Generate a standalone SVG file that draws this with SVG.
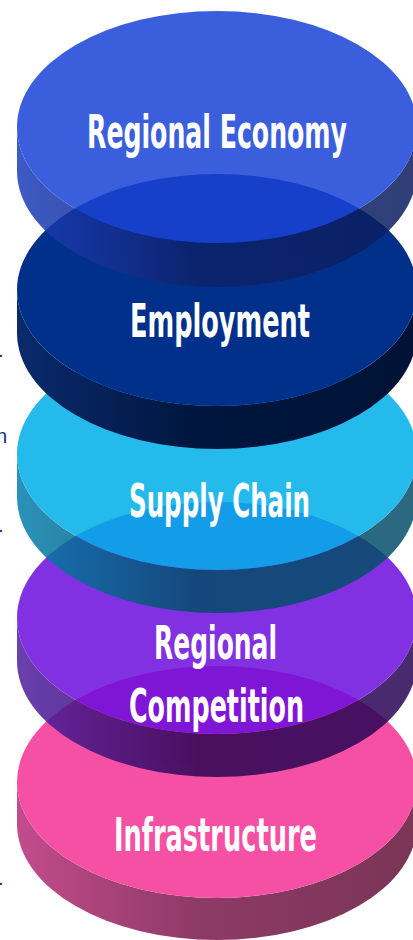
<svg xmlns="http://www.w3.org/2000/svg" width="413" height="940" viewBox="0 0 413 940">
  <defs>
    <linearGradient id="side1" x1="0" y1="0" x2="1" y2="0">
      <stop offset="0" stop-color="#1d3ebc"/>
      <stop offset="0.45" stop-color="#0e2268"/>
      <stop offset="1" stop-color="#0c1e60"/>
    </linearGradient>
    <linearGradient id="side2" x1="0" y1="0" x2="1" y2="0">
      <stop offset="0" stop-color="#0a2a6c"/>
      <stop offset="0.45" stop-color="#00163e"/>
      <stop offset="1" stop-color="#001336"/>
    </linearGradient>
    <linearGradient id="side3" x1="0" y1="0" x2="1" y2="0">
      <stop offset="0" stop-color="#0680ac"/>
      <stop offset="0.45" stop-color="#034c6a"/>
      <stop offset="1" stop-color="#05506a"/>
    </linearGradient>
    <linearGradient id="side4" x1="0" y1="0" x2="1" y2="0">
      <stop offset="0" stop-color="#501fa2"/>
      <stop offset="0.45" stop-color="#2c0554"/>
      <stop offset="1" stop-color="#2a0557"/>
    </linearGradient>
    <linearGradient id="side5" x1="0" y1="0" x2="1" y2="0">
      <stop offset="0" stop-color="#c24c8c"/>
      <stop offset="0.45" stop-color="#8e3a66"/>
      <stop offset="1" stop-color="#7a3556"/>
    </linearGradient>
  </defs>
  <style>
    .label { fill: #ffffff; font-family: "Liberation Sans Narrow", "DejaVu Sans Condensed", "Liberation Sans", sans-serif; font-weight: bold; font-size: 46px; }
    .edge { fill: #10307f; font-family: "Liberation Sans", sans-serif; font-size: 20px; }
    .glass { opacity: 0.85; }
  </style>

  <!-- clipped ends of side text -->
  <g id="side-text">
    <text class="edge" x="-2" y="357">.</text>
    <text class="edge" x="7" y="443" text-anchor="end">n</text>
    <text class="edge" x="-2" y="532">.</text>
    <text class="edge" x="-2" y="885">.</text>
  </g>

  <!-- stack drawn bottom-up: each disc = side wall + top ellipse -->
  <g id="disc-infrastructure">
    <path d="M17,782 L17,824 A200,116 0 0 0 417,824 L417,782 A200,116 0 0 1 17,782 Z" fill="url(#side5)"/>
    <ellipse cx="217" cy="782" rx="200" ry="116" fill="#f550a3"/>
    <text class="label" x="215.5" y="851" text-anchor="middle" textLength="203" lengthAdjust="spacingAndGlyphs">Infrastructure</text>
  </g>

  <g id="disc-competition" class="glass">
    <path d="M17,618 L17,661 A200,116 0 0 0 417,661 L417,618 A200,116 0 0 1 17,618 Z" fill="url(#side4)"/>
    <ellipse cx="217" cy="618" rx="200" ry="116" fill="#6c0dde"/>
  </g>
  <g id="label-competition">
    <text class="label" x="215.5" y="659" text-anchor="middle" textLength="123" lengthAdjust="spacingAndGlyphs">Regional</text>
    <text class="label" x="216.5" y="722" text-anchor="middle" textLength="175" lengthAdjust="spacingAndGlyphs">Competition</text>
  </g>

  <g id="disc-supply-chain" class="glass">
    <path d="M17,454 L17,497 A200,116 0 0 0 417,497 L417,454 A200,116 0 0 1 17,454 Z" fill="url(#side3)"/>
    <ellipse cx="217" cy="454" rx="200" ry="116" fill="#00afe9"/>
  </g>
  <g id="label-supply-chain">
    <text class="label" x="219.5" y="517" text-anchor="middle" textLength="181" lengthAdjust="spacingAndGlyphs">Supply Chain</text>
  </g>

  <g id="disc-employment">
    <path d="M17,290 L17,333 A200,116 0 0 0 417,333 L417,290 A200,116 0 0 1 17,290 Z" fill="url(#side2)"/>
    <ellipse cx="217" cy="290" rx="200" ry="116" fill="#00308a"/>
    <text class="label" x="220" y="337" text-anchor="middle" textLength="180" lengthAdjust="spacingAndGlyphs">Employment</text>
  </g>

  <g id="disc-regional-economy" class="glass">
    <path d="M17,127 L17,171 A200,116 0 0 0 417,171 L417,127 A200,116 0 0 1 17,127 Z" fill="url(#side1)"/>
    <ellipse cx="217" cy="127" rx="200" ry="116" fill="#1a43d6"/>
  </g>
  <g id="label-regional-economy">
    <text class="label" x="217" y="148" text-anchor="middle" textLength="260" lengthAdjust="spacingAndGlyphs">Regional Economy</text>
  </g>
</svg>
